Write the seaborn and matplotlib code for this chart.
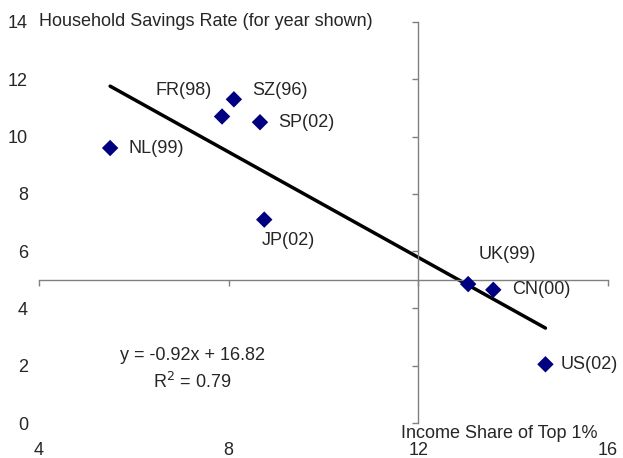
import matplotlib
matplotlib.use("Agg")
from matplotlib import pyplot as plt
import pandas as pd
import seaborn as sns

# data
countries = ["NL(99)", "FR(98)", "SZ(96)", "SP(02)", "JP(02)", "UK(99)", "CN(00)", "US(02)"]
top1_share = [5.5, 7.86, 8.11, 8.66, 8.75, 13.05, 13.58, 14.68]
savings_rate = [9.6, 10.7, 11.3, 10.5, 7.1, 4.85, 4.65, 2.05]
slope = -0.92
intercept = 16.82
r_squared = 0.79
x_ticks = [4, 8, 12, 16]
y_ticks = [0, 2, 4, 6, 8, 10, 12, 14]

df = pd.DataFrame({"Country": countries, "Top1": top1_share, "Savings": savings_rate})

sns.set_style("white")
plt.rcParams["font.family"] = ["Liberation Sans", "DejaVu Sans"]
plt.rcParams["font.size"] = 13

fig = plt.figure(figsize=(6.23, 4.58), dpi=100)
ax = fig.add_axes([0.0626, 0.0764, 0.9134, 0.8756])
ax.set_facecolor("none")

# trend line over the data range
xs = [df.Top1.min(), df.Top1.max()]
trend = pd.DataFrame({"x": xs, "y": [slope * v + intercept for v in xs]})
sns.lineplot(data=trend, x="x", y="y", color="black", linewidth=2.5, ax=ax)

sns.scatterplot(data=df, x="Top1", y="Savings", marker="D", color="#000080",
                s=70, edgecolor="none", ax=ax, zorder=3)

# label offsets in pixels (dx, dy, ha)
offsets = {
    "NL(99)": (18, 0, "left"),
    "FR(98)": (-38, 26, "center"),
    "SZ(96)": (18, 9, "left"),
    "SP(02)": (18, 0, "left"),
    "JP(02)": (24, -21, "center"),
    "UK(99)": (39, 30, "center"),
    "CN(00)": (19, 0, "left"),
    "US(02)": (15, 0, "left"),
}
for name, xv, yv in zip(countries, top1_share, savings_rate):
    dx, dy, ha = offsets[name]
    ax.annotate(name, (xv, yv), xytext=(dx, dy), textcoords="offset pixels",
                ha=ha, va="center")

ax.set_xlim(4, 16)
ax.set_ylim(0, 14)
ax.set_xticks(x_ticks)
ax.set_yticks(y_ticks)
ax.set_xlabel("")
ax.set_ylabel("")

# crossing axes at (12, 5)
for s in ["top", "right"]:
    ax.spines[s].set_visible(False)
ax.spines["left"].set_position(("data", 12))
ax.spines["bottom"].set_position(("data", 5))
for s in ["left", "bottom"]:
    ax.spines[s].set_color("#808080")
    ax.spines[s].set_linewidth(1)
ax.tick_params(direction="out", length=4, width=1, color="#808080",
               labelleft=False, labelbottom=False, left=True, bottom=True)

# overlay axes just for tick labels at the outer edges
lab = fig.add_axes(ax.get_position(), sharex=ax, sharey=ax, frameon=False)
lab.tick_params(length=0, labelsize=13, pad=8)
lab.tick_params(axis="x", pad=14)
lab.set_zorder(-1)

ax.text(7.23, 2.34, f"y = {slope}x + {intercept}", ha="center", va="center")
ax.text(7.23, 1.43, f"R$^2$ = {r_squared}", ha="center", va="center")

ax.text(0, 1, "Household Savings Rate (for year shown)", transform=ax.transAxes,
        ha="left", va="center")
ax.text(0.981, -0.037, "Income Share of Top 1%", transform=ax.transAxes,
        ha="right", va="baseline")

fig.savefig("out.png", dpi=100)
